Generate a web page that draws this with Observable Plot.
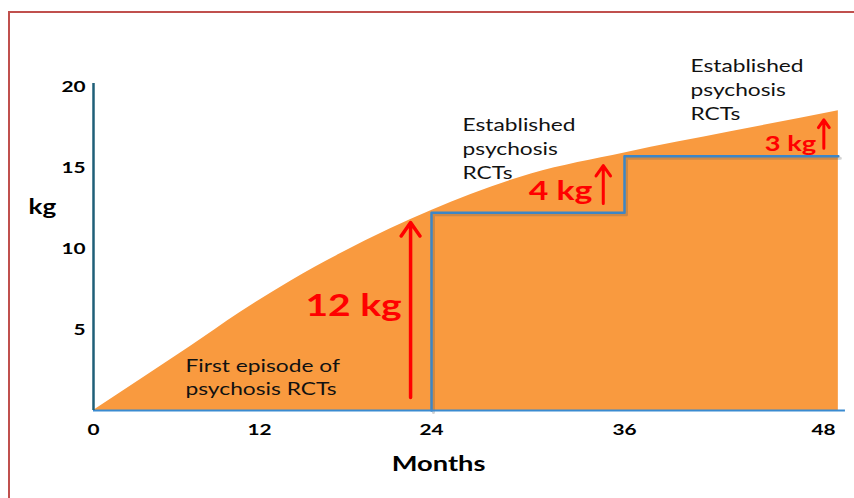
<!DOCTYPE html>
<html><head><meta charset="utf-8">
<script src="https://cdn.jsdelivr.net/npm/d3@7"></script>
<script src="https://cdn.jsdelivr.net/npm/@observablehq/plot@0.6"></script>
<style>
html,body{margin:0;padding:0;background:#fff;}
#wrap{position:relative;width:854px;height:498px;overflow:hidden;}
#wrap svg{display:block;}
#frame{position:absolute;left:8px;top:11px;width:900px;height:600px;border:2px solid #c0504d;pointer-events:none;}
</style></head><body><div id="wrap"></div>
<script>
// Curve of cumulative weight gain (kg) by month
const months = [0, 3.4, 7.0, 10.6, 14.2, 17.7, 21.1, 24, 30.2, 36, 42.4, 48.9];
const gain   = [0, 1.91, 3.95, 6.05, 8.0, 9.7, 11.2, 12.35, 14.6, 15.9, 17.2, 18.5];
// Step line of RCT evidence
const stepMonths = [24, 24, 36, 36, 48.9];
const stepGain   = [0, 12.2, 12.2, 15.7, 15.7];
// Ticks
const xTicks = [0, 12, 24, 36, 48];
const yTicks = [5, 10, 15, 20];
// Gain arrows and labels
const arrowMonth = [22.54, 34.68, 48.02];
const arrowFrom  = [0.8, 12.78, 16.19];
const arrowTo    = [11.6, 15.12, 17.94];
const gainLabels = ["12 kg", "4 kg", "3 kg"];
const gainLabelMonth = [18.56, 32.02, 46.01];
const gainLabelKg    = [6.42, 13.52, 16.42];
// Study notes
const notes = ["First episode of\npsychosis RCTs", "Established\npsychosis\nRCTs", "Established\npsychosis\nRCTs"];
const noteMonth = [6.65, 25.93, 39.98];
const noteKg    = [2.13, 16.23, 19.88];
// Axis titles
const axisTitles = ["kg", "Months"];
const axisTitleMonth = [-3.7, 24.44];
const axisTitleKg = [12.5, -3.33];

const curve = months.map((m, i) => ({m, g: gain[i]}));
const step = stepMonths.map((m, i) => ({m, g: stepGain[i]}));
const F = "Lato, 'Open Sans', sans-serif";

const chart = Plot.plot({
  width: 854, height: 498, margin: 0,
  style: {background: "#fff", overflow: "visible"},
  x: {type: "linear", domain: [0, 12, 24, 36, 48, 50], range: [93, 259, 431, 624, 823, 856], axis: null},
  y: {domain: [0, 20], range: [410, 86], axis: null},
  marks: [
    Plot.areaY(curve, {x: "m", y: "g", fill: "#f99a3f", curve: "monotone-x"}),
    Plot.line(step, {x: "m", y: "g", stroke: "#555", strokeOpacity: 0.25, strokeWidth: 3, dx: 2, dy: 2}),
    Plot.line(step, {x: "m", y: "g", stroke: "#3d86c6", strokeWidth: 2.5}),
    Plot.ruleY([0], {x1: 0, x2: 49.33, stroke: "#3a8bd1", strokeWidth: 2}),
    Plot.ruleX([0], {y1: 0, y2: 20.19, stroke: "#1f5f78", strokeWidth: 2.5}),
    Plot.arrow([0], {x1: i => arrowMonth[i], x2: i => arrowMonth[i], y1: i => arrowFrom[i], y2: i => arrowTo[i],
      stroke: "#ff0000", strokeWidth: 3.5, headLength: 7, headAngle: 70}),
    Plot.arrow([1, 2], {x1: i => arrowMonth[i], x2: i => arrowMonth[i], y1: i => arrowFrom[i], y2: i => arrowTo[i],
      stroke: "#ff0000", strokeWidth: 3, headLength: 8, headAngle: 70}),
    Plot.text(xTicks, {x: d => d, y: 0, dy: 19, text: d => String(d), fontFamily: F, fontWeight: "bold", fontSize: 16, fill: "#000"}),
    Plot.text(yTicks, {x: 0, y: d => d, dx: -8, text: d => String(d), textAnchor: "end", fontFamily: F, fontWeight: "bold", fontSize: 16, fill: "#000"}),
    Plot.text([0], {x: i => axisTitleMonth[i], y: i => axisTitleKg[i], text: i => axisTitles[i], fontFamily: F, fontWeight: "bold", fontSize: 20, fill: "#000"}),
    Plot.text([1], {x: i => axisTitleMonth[i], y: i => axisTitleKg[i], text: i => axisTitles[i], fontFamily: F, fontWeight: "bold", fontSize: 21, fill: "#000"}),
    Plot.text([0], {x: i => noteMonth[i], y: i => noteKg[i], text: i => notes[i], textAnchor: "start", lineHeight: 1.31, fontFamily: F, fontSize: 17.5, fill: "#111"}),
    Plot.text([1, 2], {x: i => noteMonth[i], y: i => noteKg[i], text: i => notes[i], textAnchor: "start", lineHeight: 1.36, fontFamily: F, fontSize: 17.5, fill: "#111"}),
    Plot.text([0], {x: i => gainLabelMonth[i], y: i => gainLabelKg[i], text: i => gainLabels[i], fontFamily: F, fontWeight: "bold", fontSize: 30, fill: "#ff0000"}),
    Plot.text([1], {x: i => gainLabelMonth[i], y: i => gainLabelKg[i], text: i => gainLabels[i], fontFamily: F, fontWeight: "bold", fontSize: 26, fill: "#ff0000"}),
    Plot.text([2], {x: i => gainLabelMonth[i], y: i => gainLabelKg[i], text: i => gainLabels[i], fontFamily: F, fontWeight: "bold", fontSize: 21, fill: "#ff0000"})
  ]
});
// horizontal stretch of text to match the reference's wide lettering
chart.querySelectorAll("text").forEach(t => {
  const tr = t.getAttribute("transform");
  if (tr) t.setAttribute("transform", tr + " scale(1.3,1)");
});
const wrap = document.getElementById("wrap");
wrap.appendChild(chart);
const fr = document.createElement("div");
fr.id = "frame";
wrap.appendChild(fr);
</script>
</body></html>
